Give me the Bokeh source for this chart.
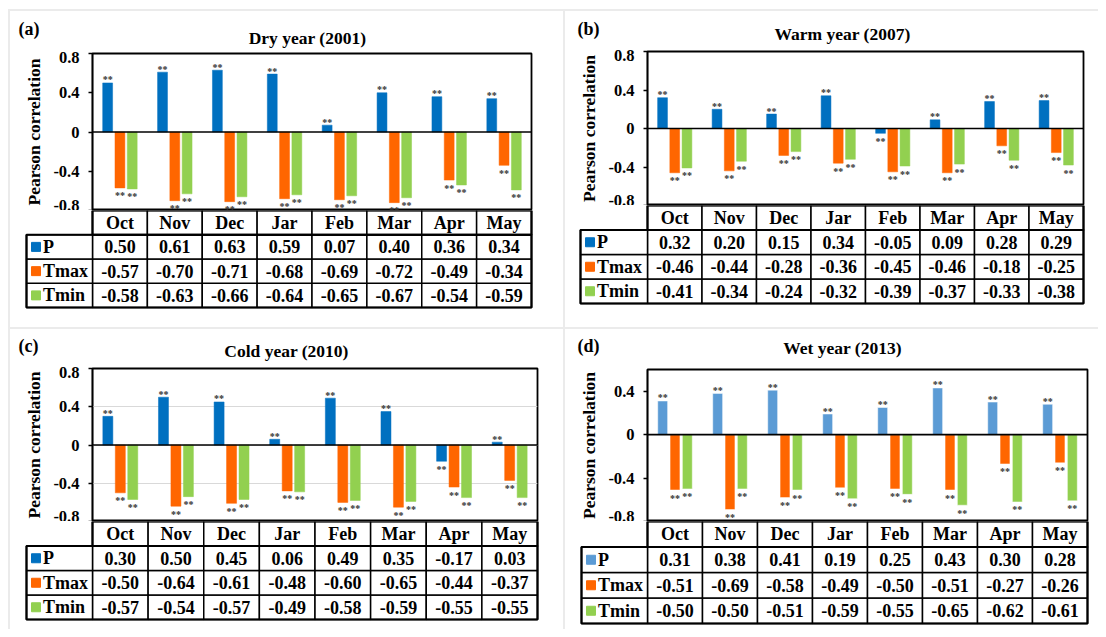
from bokeh.plotting import figure
from bokeh.layouts import row, column
from bokeh.models import ColumnDataSource, FactorRange, Range1d, Span, FixedTicker
from bokeh.transform import dodge
from bokeh.core.properties import value
from bokeh.embed import file_html
from bokeh.resources import INLINE

# ---------------- data ----------------
months = ["Oct", "Nov", "Dec", "Jar", "Feb", "Mar", "Apr", "May"]
series = ["P", "Tmax", "Tmin"]

titles = ["Dry year (2001)", "Warm year (2007)", "Cold year (2010)", "Wet year (2013)"]
tags = ["(a)", "(b)", "(c)", "(d)"]

dry_P = [0.50, 0.61, 0.63, 0.59, 0.07, 0.40, 0.36, 0.34]
dry_Tmax = [-0.57, -0.70, -0.71, -0.68, -0.69, -0.72, -0.49, -0.34]
dry_Tmin = [-0.58, -0.63, -0.66, -0.64, -0.65, -0.67, -0.54, -0.59]

warm_P = [0.32, 0.20, 0.15, 0.34, -0.05, 0.09, 0.28, 0.29]
warm_Tmax = [-0.46, -0.44, -0.28, -0.36, -0.45, -0.46, -0.18, -0.25]
warm_Tmin = [-0.41, -0.34, -0.24, -0.32, -0.39, -0.37, -0.33, -0.38]

cold_P = [0.30, 0.50, 0.45, 0.06, 0.49, 0.35, -0.17, 0.03]
cold_Tmax = [-0.50, -0.64, -0.61, -0.48, -0.60, -0.65, -0.44, -0.37]
cold_Tmin = [-0.57, -0.54, -0.57, -0.49, -0.58, -0.59, -0.55, -0.55]

wet_P = [0.31, 0.38, 0.41, 0.19, 0.25, 0.43, 0.30, 0.28]
wet_Tmax = [-0.51, -0.69, -0.58, -0.49, -0.50, -0.51, -0.27, -0.26]
wet_Tmin = [-0.50, -0.50, -0.51, -0.59, -0.55, -0.65, -0.62, -0.61]

ticks_full = [-0.8, -0.4, 0, 0.4, 0.8]
ticks_full_labels = ["-0.8", "-0.4", "0", "0.4", "0.8"]
ticks_wet = [-0.8, -0.4, 0, 0.4]
ticks_wet_labels = ["-0.8", "-0.4", "0", "0.4"]

panel_values = [
    (dry_P, dry_Tmax, dry_Tmin),
    (warm_P, warm_Tmax, warm_Tmin),
    (cold_P, cold_Tmax, cold_Tmin),
    (wet_P, wet_Tmax, wet_Tmin),
]
panel_ticks = [(ticks_full, ticks_full_labels)] * 3 + [(ticks_wet, ticks_wet_labels)]
y_limits = [(-0.8, 0.8), (-0.8, 0.8), (-0.8, 0.8), (-0.8, 0.6)]

# ---------------- styling / layout ----------------
FONT = "Liberation Serif"
BLUE = "#0070C0"
BLUE_D = "#5B9BD5"
ORANGE = "#FF6600"
GREEN = "#92D050"

# W: figure width, H: header height, ch: chart fig height, fl/fr: frame borders,
# th: table fig height, tl: table left border, tb: table bottom border,
# ttl/tag: pixel positions of title centre and tag inside the header strip
GEO = [
    dict(W=553, H=40, ch=159, fl=82, fr=32, th=117, tl=16, tb=20, ttl=(297, 14), tag=(8, 23), grid=False),
    dict(W=533, H=38, ch=156, fl=82, fr=15, th=122, tl=15, tb=24, ttl=(277, 16), tag=(12, 21), grid=False),
    dict(W=553, H=37, ch=155, fl=82, fr=26, th=108, tl=16, tb=10, ttl=(276, 16), tag=(8, 21), grid=True),
    dict(W=533, H=38, ch=154, fl=82, fr=11, th=108, tl=16, tb=6, ttl=(277, 20), tag=(12, 22), grid=False),
]


def no_align(fig):
    if "frame_align" in fig.properties():
        fig.frame_align = False


def bare(fig):
    no_align(fig)
    fig.grid.grid_line_color = None
    fig.outline_line_color = None


def make_panel(i):
    g = GEO[i]
    W, H, ch, fl, fr = g["W"], g["H"], g["ch"], g["fl"], g["fr"]
    fw = W - fl - fr
    colw = fw / 8.0
    vals = panel_values[i]
    colors = [BLUE_D if i == 3 else BLUE, ORANGE, GREEN]
    y0, y1 = y_limits[i]

    # ---------------- header strip: panel tag + title ----------------
    h = figure(width=W, height=H, x_range=Range1d(0, W), y_range=Range1d(0, H),
               x_axis_location=None, y_axis_location=None, title=None,
               toolbar_location=None, output_backend="svg",
               min_border_left=0, min_border_right=0, min_border_top=0, min_border_bottom=0)
    bare(h)
    h.text(x=[g["ttl"][0]], y=[g["ttl"][1]], text=[titles[i]], text_font=value(FONT),
           text_font_style="bold", text_font_size="17.5px", text_align="center",
           text_baseline="middle", text_color="black")
    h.text(x=[g["tag"][0]], y=[g["tag"][1]], text=[tags[i]], text_font=value(FONT),
           text_font_style="bold", text_font_size="18px", text_align="left",
           text_baseline="middle", text_color="black")

    # ---------------- bar chart ----------------
    data = dict(month=months)
    for name, v in zip(series, vals):
        data[name] = v
        data[name + "_off"] = [-3 if x >= 0 else 8 for x in v]
    src = ColumnDataSource(data)

    p = figure(width=W, height=ch, x_range=FactorRange(factors=months),
               y_range=Range1d(y0, y1), x_axis_location=None, title=None,
               toolbar_location=None, output_backend="svg",
               min_border_left=fl, min_border_right=fr, min_border_top=2,
               min_border_bottom=0)
    no_align(p)
    p.outline_line_color = "black"
    p.outline_line_width = 1.8
    p.outline_line_alpha = 1
    p.xgrid.grid_line_color = None
    if g["grid"]:
        p.ygrid.grid_line_color = "#d9d9d9"
        p.ygrid.grid_line_width = 1
    else:
        p.ygrid.grid_line_color = None

    ticks, labels = panel_ticks[i]
    ax = p.yaxis[0]
    ax.ticker = FixedTicker(ticks=ticks)
    ax.major_label_overrides = {t: l for t, l in zip(ticks, labels)}
    ax.axis_label = "Pearson correlation"
    ax.axis_label_text_font = FONT
    ax.axis_label_text_font_style = "bold"
    ax.axis_label_text_font_size = "17.5px"
    ax.axis_label_text_color = "black"
    ax.axis_label_standoff = 6
    ax.major_label_text_font = FONT
    ax.major_label_text_font_style = "bold"
    ax.major_label_text_font_size = "16.5px"
    ax.major_label_text_color = "black"
    ax.major_label_standoff = 9
    ax.major_tick_in = 0
    ax.major_tick_out = 4
    ax.major_tick_line_color = "black"
    ax.major_tick_line_width = 1.3
    ax.minor_tick_line_color = None
    ax.axis_line_color = "black"
    ax.axis_line_width = 1.5

    offsets = [-0.224, 0.0, 0.224]
    for name, off, c in zip(series, offsets, colors):
        xd = dodge("month", off, range=p.x_range)
        p.vbar(x=xd, top=name, width=0.18, source=src, fill_color=c,
               line_color=("#ffffff" if i == 3 else c), line_width=0.5)
        p.text(x=xd, y=name, text=value("**"), source=src, y_offset=name + "_off",
               text_font=value(FONT), text_font_size="10px", text_font_style="bold",
               text_align="center", text_baseline="alphabetic", text_color="#333333")

    p.add_layout(Span(location=0, dimension="width", line_color="black", line_width=1.6))

    # ---------------- table ----------------
    th, tl, tb = g["th"], g["tl"], g["tb"]
    tab_h = th - tb
    rowh = tab_h / 4.0
    lw = (fl - tl) / colw
    t = figure(width=W, height=th,
               x_range=Range1d(-lw - 2.0 / colw, 8 + 2.0 / colw),
               y_range=Range1d(-2.0 / rowh, 4),
               x_axis_location=None, y_axis_location=None, title=None,
               toolbar_location=None, output_backend="svg",
               min_border_left=tl - 2, min_border_right=fr - 2,
               min_border_top=0, min_border_bottom=tb - 2)
    bare(t)

    L, R, B, T = [], [], [], []
    for r in range(4):
        for j in range(len(months)):
            L.append(j); R.append(j + 1); B.append(r); T.append(r + 1)
    for r in range(3):
        L.append(-lw); R.append(0); B.append(r); T.append(r + 1)
    t.quad(left=L, right=R, bottom=B, top=T, fill_color="white",
           line_color="black", line_width=1.5)
    t.quad(left=[0, -lw], right=[8, 8], bottom=[3, 0], top=[4, 3], fill_color=None,
           line_color="black", line_width=2.2)

    hx = [j + 0.5 for j in range(len(months))]
    t.text(x=hx, y=[3.5] * len(months), text=months, text_font=value(FONT),
           text_font_style="bold", text_font_size="18px", text_align="center",
           text_baseline="middle", text_color="black")
    tx, ty, tt = [], [], []
    for k, v in enumerate(vals):
        for j, x in enumerate(v):
            tx.append(j + 0.5); ty.append(2.5 - k); tt.append("%.2f" % x)
    t.text(x=tx, y=ty, text=tt, text_font=value(FONT), text_font_style="bold",
           text_font_size="18px", text_align="center", text_baseline="middle",
           text_color="black")
    t.scatter(x=[-lw + 9.5 / colw] * 3, y=[2.5, 1.5, 0.5], marker="square", size=9,
              fill_color=colors, line_color=colors)
    t.text(x=[-lw + 16.5 / colw] * 3, y=[2.5, 1.5, 0.5], text=series,
           text_font=value(FONT), text_font_style="bold", text_font_size="18px",
           text_align="left", text_baseline="middle", text_color="black")

    border = {"border-top": "2px solid #ebebeb", "border-left": "2px solid #ebebeb"}
    return column(h, p, t, styles=border)


panels = [make_panel(i) for i in range(4)]
layout = column(row(panels[0], panels[1]), row(panels[2], panels[3]), margin=(9, 0, 0, 8))

open("out.html", "w").write(file_html(layout, INLINE))
